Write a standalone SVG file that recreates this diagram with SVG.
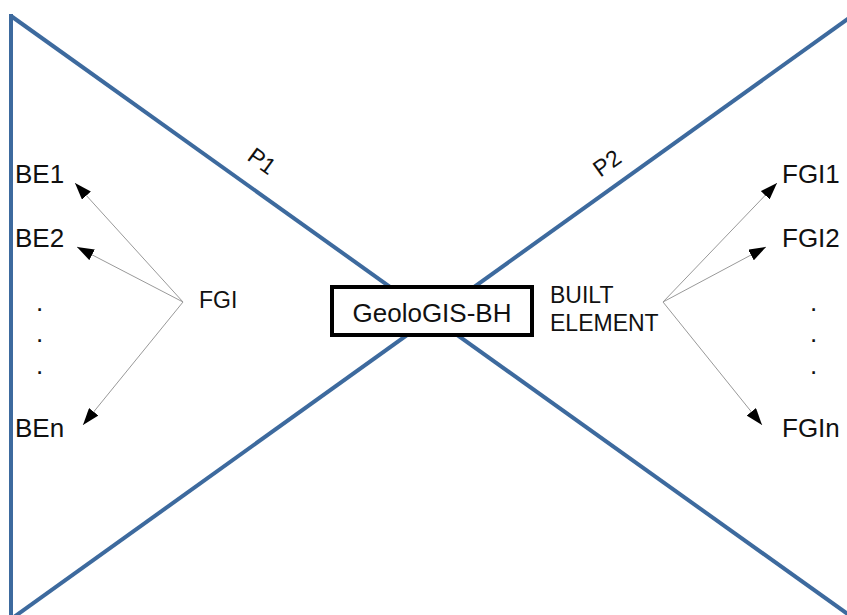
<svg xmlns="http://www.w3.org/2000/svg" width="847" height="615" viewBox="0 0 847 615">
<defs>
<style>
.frame{stroke:#3d6a9e;stroke-width:4;fill:none;stroke-linecap:butt}
.t{font-family:"Liberation Sans",Arial,sans-serif;fill:#111}
.big{font-size:26px}
.mid{font-size:23px}
.conn{stroke:#999;stroke-width:1;fill:none}
</style>
<marker id="ah" viewBox="0 0 17 12" refX="17" refY="6" markerWidth="17" markerHeight="12" markerUnits="userSpaceOnUse" orient="auto">
<path d="M0,0 L17,6 L0,12 z" fill="#000"/>
</marker>
</defs>
<rect width="847" height="615" fill="#fff"/>
<g id="frame">
<line class="frame" x1="11" y1="14" x2="11" y2="615"/>
<line class="frame" x1="11" y1="16" x2="849" y2="615"/>
<line class="frame" x1="7" y1="622" x2="849" y2="18"/>
</g>
<g id="connectors">
<line class="conn" x1="183" y1="302" x2="75" y2="183" marker-end="url(#ah)"/>
<line class="conn" x1="183" y1="302" x2="77" y2="247" marker-end="url(#ah)"/>
<line class="conn" x1="183" y1="302" x2="83" y2="425" marker-end="url(#ah)"/>
<line class="conn" x1="663" y1="302" x2="777" y2="183" marker-end="url(#ah)"/>
<line class="conn" x1="663" y1="302" x2="766" y2="247" marker-end="url(#ah)"/>
<line class="conn" x1="663" y1="302" x2="762" y2="425" marker-end="url(#ah)"/>
</g>
<g id="center">
<rect x="332" y="287" width="200" height="48" fill="#fff" stroke="#000" stroke-width="4"/>
<text class="t big" x="432" y="322" text-anchor="middle">GeoloGIS-BH</text>
</g>
<g id="p1"><text class="t mid" transform="translate(262,161) rotate(36)" text-anchor="middle" dy="8">P1</text></g>
<g id="p2"><text class="t mid" transform="translate(607,163) rotate(-36)" text-anchor="middle" dy="8">P2</text></g>
<g id="left-labels">
<text class="t big" x="15" y="183">BE1</text>
<text class="t big" x="15" y="247">BE2</text>
<text class="t big" x="36" y="311">.</text>
<text class="t big" x="36" y="342">.</text>
<text class="t big" x="36" y="374">.</text>
<text class="t big" x="15" y="437">BEn</text>
</g>
<g id="fgi"><text class="t mid" x="199" y="308">FGI</text></g>
<g id="built"><text class="t mid" x="550" y="303">BUILT</text><text class="t mid" x="550" y="331">ELEMENT</text></g>
<g id="right-labels">
<text class="t big" x="782" y="183">FGI1</text>
<text class="t big" x="782" y="247">FGI2</text>
<text class="t big" x="810" y="311">.</text>
<text class="t big" x="810" y="342">.</text>
<text class="t big" x="810" y="374">.</text>
<text class="t big" x="782" y="437">FGIn</text>
</g>
</svg>
